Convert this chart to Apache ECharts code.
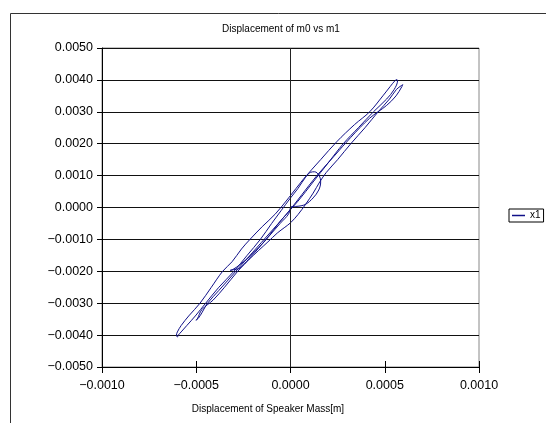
<!DOCTYPE html>
<html><head><meta charset="utf-8">
<script src="https://cdn.jsdelivr.net/npm/echarts@6/dist/echarts.min.js"></script>
<style>html,body{margin:0;padding:0;background:#fff}#c{width:546px;height:423px}</style>
</head><body><div id="c"></div>
<script>
const chartTitle = 'Displacement of m0 vs m1';
const xAxisTitle = 'Displacement of Speaker Mass[m]';
const seriesName = 'x1';
const xMin = -0.001, xMax = 0.001, xStep = 0.0005;
const yMin = -0.005, yMax = 0.005, yStep = 0.001;
const xZeroLine = [0];

// Displacement of speaker mass (x) and of m0 (y), in metres, in path order
const speakerMass = [
  0.0, 0.00004, 0.00008, 0.00012, 0.00015, 0.00016, 0.000152, 0.000128, 0.000105, 0.00008,
  0.00004, 0.0, -0.00005, -0.0001, -0.00016, -0.00023, -0.0003, -0.00038, -0.00045, -0.000505,
  -0.00055, -0.00058, -0.000595, -0.0006,
  -0.000605, -0.0006, -0.00058, -0.00054, -0.00048, -0.00042, -0.00036, -0.00031, -0.00026, -0.000215,
  -0.00015, -0.00008, -0.00001, 0.00007, 0.00016, 0.000245, 0.00034, 0.00042, 0.00049, 0.00053,
  0.000555, 0.000565,
  0.000568, 0.00055, 0.00051, 0.00044, 0.00036, 0.00028, 0.0002, 0.00012, 0.00004, -0.00005,
  -0.00013, -0.00021, -0.00027, -0.000305, -0.00032,
  -0.000295, -0.000268, -0.00022, -0.00017, -0.00012, -0.00007, -0.00003, 0.0, 0.00004, 0.00008,
  0.00012, 0.000155, 0.00019, 0.00025, 0.00032, 0.000395, 0.000465, 0.000525, 0.000562, 0.00059,
  0.000596,
  0.00059, 0.00056, 0.00051, 0.00042, 0.00032, 0.00023, 0.00014, 0.00006, -0.00002, -0.00011,
  -0.0002, -0.00029, -0.00038, -0.00044, -0.00047, -0.00049, -0.000502,
  -0.000495, -0.00047, -0.00041, -0.00035, -0.00028, -0.000188, -0.000114, -0.000055, -0.00001, 0.0
];
const m0 = [
  0.00003, 0.00004, 0.0001, 0.0003, 0.00055, 0.0008, 0.001, 0.00112, 0.0011, 0.00095,
  0.0006, 0.0003, -0.0001, -0.0005, -0.001, -0.0015, -0.002, -0.0025, -0.003, -0.0034,
  -0.0037, -0.0039, -0.004, -0.00406,
  -0.004, -0.0039, -0.0037, -0.0034, -0.003, -0.0025, -0.002, -0.0017, -0.0013, -0.001,
  -0.0006, -0.0002, 0.0003, 0.0009, 0.0015, 0.00206, 0.0026, 0.003, 0.0035, 0.0038,
  0.00398, 0.00401,
  0.00398, 0.0037, 0.0034, 0.003, 0.0025, 0.002, 0.0014, 0.0008, 0.0002, -0.0004,
  -0.001, -0.0015, -0.0018, -0.00194, -0.00197,
  -0.00194, -0.0019, -0.00163, -0.00135, -0.00108, -0.0008, -0.00062, -0.00048, -0.00022, 0.0001,
  0.00045, 0.0008, 0.0011, 0.0015, 0.002, 0.0025, 0.003, 0.0034, 0.0037, 0.00383,
  0.00385,
  0.00378, 0.0035, 0.0032, 0.0028, 0.0022, 0.0016, 0.001, 0.0004, -0.0002, -0.0008,
  -0.0014, -0.002, -0.0026, -0.003, -0.0033, -0.00348, -0.00353,
  -0.0035, -0.0032, -0.0029, -0.0025, -0.002, -0.0014, -0.0009, -0.0005, -0.0002, 0.00003
];

const pts = speakerMass.map((x, i) => [x, m0[i]]);
const fmt = v => (Math.abs(v) < 1e-12 ? 0 : v).toFixed(4).replace('-', '\u2212');
const FONT = 'Liberation Sans';
const GRID_H = 319;

const chart = echarts.init(document.getElementById('c'), null, {renderer: 'canvas'});
chart.setOption({
  animation: false,
  backgroundColor: '#fff',
  textStyle: {fontFamily: FONT},
  grid: {left: 102, top: 48, width: 377, height: GRID_H, containLabel: false,
         show: true, borderColor: '#888', borderWidth: 1, backgroundColor: 'rgba(0,0,0,0)'},
  legend: {
    data: [{name: seriesName, icon: 'rect'}], left: 509, top: 209, orient: 'vertical',
    padding: [1, 3, 1, 3], itemWidth: 13, itemHeight: 1.5, itemGap: 0,
    borderColor: '#000', borderWidth: 1, backgroundColor: '#fff',
    textStyle: {fontSize: 10, color: '#000', fontFamily: FONT, lineHeight: 11}
  },
  graphic: [
    {type: 'rect', silent: true, shape: {x: 10.5, y: 13.5, width: 700, height: 600},
     style: {fill: 'none', stroke: '#333', lineWidth: 1}, z: -10},
    {type: 'text', silent: true, x: 281, y: 29,
     style: {text: chartTitle, fontSize: 10, fontFamily: FONT, fill: '#000', textAlign: 'center', textVerticalAlign: 'middle'}},
    {type: 'text', silent: true, x: 268, y: 409,
     style: {text: xAxisTitle, fontSize: 10, fontFamily: FONT, fill: '#000', textAlign: 'center', textVerticalAlign: 'middle'}}
  ],
  xAxis: [{
    type: 'value', gridIndex: 0, min: xMin, max: xMax, interval: xStep, position: 'bottom',
    axisLine: {show: true, onZero: false, lineStyle: {color: '#000', width: 1}},
    axisTick: {show: true, inside: false, length: 6, lineStyle: {color: '#000'}},
    axisLabel: {formatter: fmt, fontSize: 12.5, color: '#000', margin: 12, fontFamily: FONT},
    splitLine: {show: false}
  }, {
    // tick marks pointing up into the plot from the bottom axis (cross ticks)
    type: 'value', gridIndex: 0, min: xMin, max: xMax, interval: xStep, position: 'bottom',
    axisLine: {show: false, onZero: false},
    axisTick: {show: true, inside: true, length: 6, lineStyle: {color: '#000'}},
    axisLabel: {show: false}, splitLine: {show: false}
  }],
  yAxis: {
    type: 'value', min: yMin, max: yMax, interval: yStep,
    axisLine: {show: true, onZero: false, lineStyle: {color: '#000', width: 1}},
    axisTick: {show: true, inside: false, length: 5, lineStyle: {color: '#000'}},
    axisLabel: {formatter: fmt, fontSize: 12.5, color: '#000', margin: 9, fontFamily: FONT},
    splitLine: {show: true, lineStyle: {color: '#111', width: 1}}
  },
  series: [{
    name: seriesName, type: 'line', data: pts, showSymbol: false, symbol: 'none',
    smooth: 0.35, lineStyle: {color: '#101088', width: 1}, itemStyle: {color: '#101088'},
    z: 3,
    markLine: {
      silent: true, symbol: 'none', label: {show: false}, animation: false,
      lineStyle: {color: '#222', width: 1, type: 'solid'},
      data: xZeroLine.map(v => ({xAxis: v}))
    }
  }, {
    name: 'tickAxisCarrier', type: 'line', xAxisIndex: 1, data: pts, silent: true,
    showSymbol: false, symbol: 'none', lineStyle: {opacity: 0}, tooltip: {show: false}
  }]
});
</script></body></html>
